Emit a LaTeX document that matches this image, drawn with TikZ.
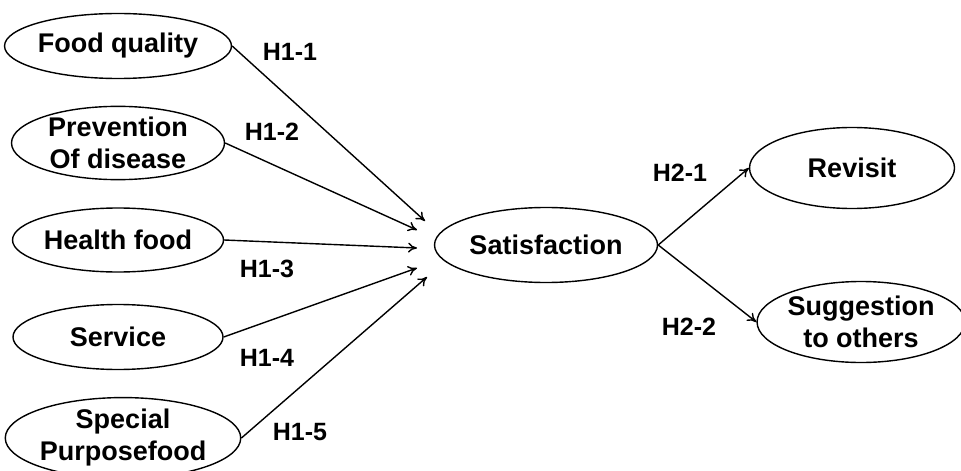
\documentclass[tikz,border=0pt]{standalone}
\usepackage{fontspec}
\setmainfont{Liberation Sans}
\usetikzlibrary{arrows.meta,shapes.geometric}
\tikzset{
  factor/.style={ellipse,draw,line width=0.7pt,inner sep=0pt,align=center,
    font=\fontsize{13.5}{16}\selectfont\bfseries},
  link/.style={-{To[length=4.5pt,width=5pt]},line width=0.7pt},
  hyp/.style={font=\fontsize{12.5}{14}\selectfont\bfseries}
}

\begin{document}
\begin{tikzpicture}[x=0.5pt,y=-0.5pt]
        \useasboundingbox (0,0) rectangle (961,470);
        % constructs
        \node[factor,minimum width=105pt,minimum height=32.5pt] (food) at (118,46) {Food quality};
        \node[factor,minimum width=106.5pt,minimum height=32.5pt] (prev) at (118,143) {Prevention\\Of disease};
        \node[factor,minimum width=105.5pt,minimum height=32pt] (health) at (118,240) {Health food};
        \node[factor,minimum width=105pt,minimum height=32.5pt] (service) at (118,337) {Service};
        \node[factor,minimum width=110pt,minimum height=36pt] (special) at (123,438) {Special\\Purposefood};
        \node[factor,minimum width=111.5pt,minimum height=37.5pt] (sat) at (546,245) {Satisfaction};
        \node[factor,minimum width=102.5pt,minimum height=40.5pt] (revisit) at (852,168) {Revisit};
        \node[factor,minimum width=96pt,minimum height=40.5pt] (suggest) at (861,322) {Suggestion\\to others};
        % arrow ends in front of satisfaction
        \coordinate (in1) at (425,221);
        \coordinate (in2) at (417,230);
        \coordinate (in3) at (417,248);
        \coordinate (in4) at (417,268);
        \coordinate (in5) at (427,277);
        \draw[link] (food.east) -- (in1);
        \draw[link] (prev.east) -- (in2);
        \draw[link] (health.east) -- (in3);
        \draw[link] (service.east) -- (in4);
        \draw[link] (special.east) -- (in5);
        \draw[link] (sat.east) -- (revisit.west);
        \draw[link] (sat.east) -- (suggest.west);
        % hypotheses
        \node[hyp] (h11) at (290,52) {H1-1};
        \node[hyp] (h12) at (272,132) {H1-2};
        \node[hyp] (h13) at (267,269) {H1-3};
        \node[hyp] (h14) at (267,358) {H1-4};
        \node[hyp] (h15) at (300,432) {H1-5};
        \node[hyp] (h21) at (680,173) {H2-1};
        \node[hyp] (h22) at (689,327) {H2-2};
\end{tikzpicture}
\end{document}
